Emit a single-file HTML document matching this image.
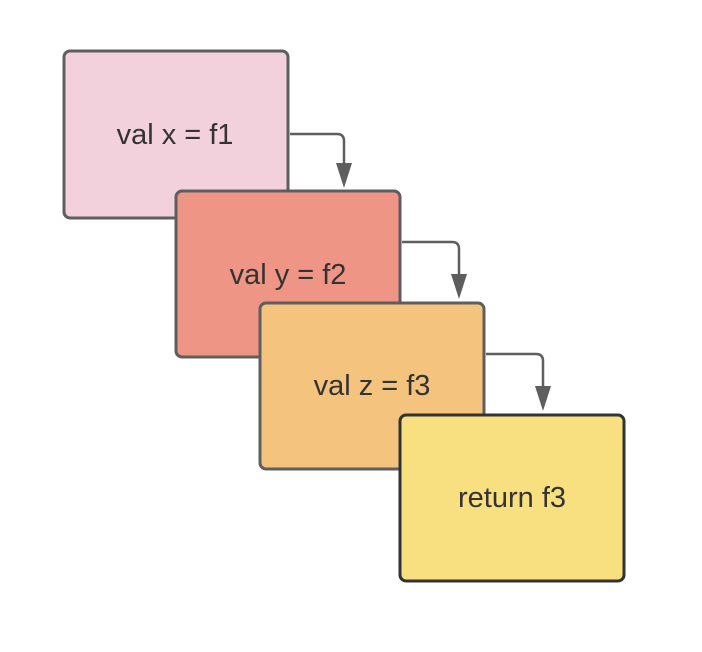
<!DOCTYPE html>
<html><head><meta charset="utf-8"><style>
html,body{margin:0;padding:0;background:#fff;width:702px;height:652px;overflow:hidden}
</style></head><body>
<svg width="702" height="652" xmlns="http://www.w3.org/2000/svg" font-family="Liberation Sans, sans-serif" font-size="29" fill="#333">
<g stroke="#5e5e5e" stroke-width="2.5" fill="none">
<path d="M290 134 H337 Q344 134 344 141 V170"/>
<path d="M402 242 H452 Q459 242 459 249 V280"/>
<path d="M486 354 H536 Q543 354 543 361 V392"/>
</g>
<g fill="#5e5e5e">
<path d="M336 163 L352 163 L344 188 Z"/>
<path d="M451 274 L467 274 L459 299 Z"/>
<path d="M535 386 L551 386 L543 411 Z"/>
</g>
<rect x="64" y="51" width="224" height="167" rx="6" fill="#f2d1dc" stroke="#5e5e5e" stroke-width="3"/>
<text x="175" y="144" text-anchor="middle" fill="#333">val x = f1</text>
<rect x="176" y="191" width="224" height="166" rx="6" fill="#ef9586" stroke="#5e5e5e" stroke-width="3"/>
<text x="288" y="284" text-anchor="middle" fill="#333">val y = f2</text>
<rect x="260" y="303" width="224" height="166" rx="6" fill="#f4c47f" stroke="#5e5e5e" stroke-width="3"/>
<text x="372" y="395" text-anchor="middle" fill="#333">val z = f3</text>
<rect x="400" y="415" width="224" height="166" rx="6" fill="#f8df7f" stroke="#333" stroke-width="3"/>
<text x="512" y="507" text-anchor="middle" fill="#333">return f3</text>
</svg>
</body></html>
